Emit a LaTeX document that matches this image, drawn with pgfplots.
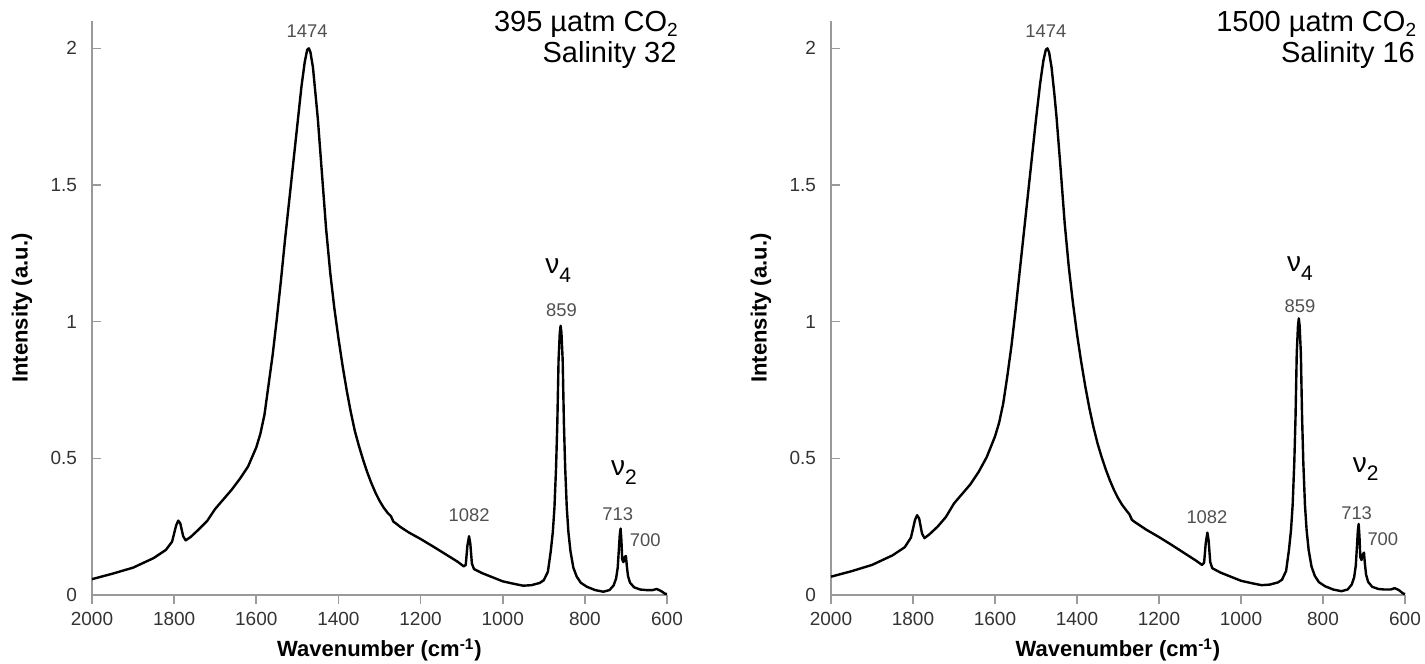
\documentclass[border=0pt]{standalone}
\usepackage{fontspec}
\setmainfont{Liberation Sans}
\usepackage{pgfplots}
\pgfplotsset{compat=1.18}

\definecolor{ticktext}{HTML}{333333}
\definecolor{peaktext}{HTML}{505050}
\definecolor{axisgray}{HTML}{9A9A9A}

% 395 uatm CO2, salinity 32
\pgfplotstableread{
w I
2000 0.058
1950 0.078
1900 0.100
1850 0.135
1820 0.165
1805 0.195
1795 0.255
1790 0.272
1785 0.262
1778 0.215
1772 0.200
1760 0.212
1740 0.240
1720 0.270
1700 0.315
1680 0.350
1660 0.385
1640 0.425
1620 0.470
1600 0.540
1590 0.590
1580 0.660
1570 0.770
1560 0.880
1550 1.010
1540 1.150
1530 1.300
1520 1.440
1510 1.580
1500 1.720
1490 1.860
1482 1.950
1476 1.995
1472 2.000
1468 1.985
1462 1.930
1455 1.820
1450 1.740
1440 1.540
1430 1.340
1420 1.180
1410 1.050
1400 0.940
1390 0.840
1380 0.750
1370 0.670
1360 0.600
1350 0.545
1340 0.495
1330 0.450
1320 0.410
1310 0.375
1300 0.345
1290 0.320
1280 0.300
1272 0.288
1266 0.268
1260 0.262
1250 0.250
1230 0.230
1200 0.205
1170 0.178
1140 0.150
1110 0.122
1095 0.105
1090 0.110
1086 0.180
1082 0.215
1079 0.190
1075 0.115
1070 0.095
1050 0.080
1020 0.062
1000 0.050
970 0.040
950 0.034
930 0.036
910 0.044
900 0.054
890 0.085
883 0.160
878 0.230
874 0.320
870 0.470
867 0.630
864 0.860
861 0.960
859 0.985
857 0.960
854 0.860
851 0.630
848 0.470
844 0.320
840 0.230
835 0.160
828 0.100
820 0.068
810 0.045
795 0.030
775 0.018
755 0.012
740 0.018
730 0.035
724 0.060
720 0.100
717 0.170
715 0.220
713 0.243
711 0.200
709 0.130
706 0.120
703 0.138
700 0.143
698 0.110
695 0.070
690 0.045
680 0.028
665 0.020
650 0.018
635 0.018
625 0.022
615 0.015
605 0.005
600 0.003
}\lowco

% 1500 uatm CO2, salinity 16
\pgfplotstableread{
w I
2000 0.067
1950 0.087
1900 0.110
1850 0.145
1820 0.175
1805 0.210
1795 0.275
1790 0.292
1785 0.280
1778 0.225
1772 0.208
1760 0.222
1740 0.250
1720 0.285
1700 0.335
1680 0.370
1660 0.405
1640 0.450
1620 0.505
1600 0.580
1590 0.630
1580 0.700
1570 0.800
1560 0.910
1550 1.040
1540 1.180
1530 1.320
1520 1.460
1510 1.600
1500 1.740
1490 1.870
1482 1.955
1476 1.995
1472 2.000
1468 1.985
1462 1.930
1455 1.830
1450 1.750
1440 1.560
1430 1.360
1420 1.200
1410 1.070
1400 0.955
1390 0.855
1380 0.765
1370 0.685
1360 0.615
1350 0.555
1340 0.505
1330 0.460
1320 0.420
1310 0.385
1300 0.355
1290 0.330
1280 0.310
1272 0.295
1266 0.275
1260 0.268
1250 0.258
1230 0.238
1200 0.212
1170 0.184
1140 0.155
1110 0.126
1095 0.110
1090 0.118
1086 0.190
1082 0.228
1079 0.200
1075 0.120
1070 0.098
1050 0.082
1020 0.064
1000 0.052
970 0.042
950 0.036
930 0.038
910 0.046
900 0.056
890 0.088
883 0.165
878 0.238
874 0.330
870 0.485
867 0.650
864 0.885
861 0.985
859 1.012
857 0.985
854 0.885
851 0.650
848 0.485
844 0.330
840 0.238
835 0.165
828 0.104
820 0.070
810 0.047
795 0.032
775 0.020
755 0.014
740 0.020
730 0.038
724 0.065
720 0.108
717 0.182
715 0.235
713 0.260
711 0.212
709 0.138
706 0.128
703 0.148
700 0.155
698 0.118
695 0.075
690 0.048
680 0.030
665 0.022
650 0.020
635 0.020
625 0.025
615 0.018
605 0.006
600 0.003
}\highco

\pgfplotsset{
  spec/.style={
    scale only axis, height=287pt,
    xmin=600, xmax=2000, ymin=0, ymax=2.1,
    x dir=reverse,
    axis x line*=bottom, axis y line*=left,
    axis line style={axisgray, line width=0.8pt, -},
    xtick={600,800,...,2000}, ytick={0,0.5,1,1.5,2},
    tick align=inside, major tick length=4.5pt,
    tick style={axisgray, line width=0.8pt},
    x tick style={yshift=-4.5pt},
    tick label style={font=\fontsize{9.5}{11}\selectfont, text=ticktext},
    /pgf/number format/assume math mode=true,
    /pgf/number format/set thousands separator={},
    yticklabel style={xshift=-4pt},
    xticklabel style={yshift=-5pt},
    label style={font=\bfseries\fontsize{11}{13}\selectfont},
    xlabel={Wavenumber (cm\textsuperscript{-1})},
    ylabel={Intensity (a.u.)},
    xlabel style={at={([yshift=-27.5pt]axis description cs:0.5,0)}, anchor=center},
    ylabel style={at={([xshift=-35pt]axis description cs:0,0.5)}, anchor=center},
    clip=false,
  },
}
\tikzset{
  peak/.style={font=\fontsize{9.2}{10}\selectfont, text=peaktext, anchor=base, inner sep=0pt},
  mode/.style={font=\fontsize{14}{16}\selectfont, anchor=base, inner sep=0pt},
  note/.style={font=\fontsize{14.5}{16}\selectfont, anchor=base east, inner sep=0pt},
}
\newcommand{\lowsub}[1]{\raisebox{-4.5pt}{\fontsize{10.5}{11}\selectfont #1}}
\newcommand{\cosub}[1]{\raisebox{-2.5pt}{\fontsize{9.5}{10}\selectfont #1}}

\begin{document}
\begin{tikzpicture}
\begin{axis}[spec, width=287.5pt, at={(46pt,34.5pt)}, anchor=south west]
  \addplot[black, line width=1.2pt, line join=round] table[x=w, y=I] {\lowco};
  \node[peak] at (axis cs:1476,2.04) {1474};
  \node[peak] at (axis cs:1082,0.27) {1082};
  \node[peak] at (axis cs:857,1.02) {859};
  \node[peak] at (axis cs:720,0.274) {713};
  \node[peak] at (axis cs:653,0.177) {700};
  \node[mode] at (axis cs:865,1.177) {ν\lowsub{4}};
  \node[mode] at (axis cs:705,0.439) {ν\lowsub{2}};
  \node[note] at (axis cs:573,2.06) {395 µatm CO\cosub{2}};
  \node[note] at (axis cs:576,1.948) {Salinity 32};
\end{axis}
\begin{axis}[spec, width=287pt, at={(415.5pt,34.5pt)}, anchor=south west]
  \addplot[black, line width=1.2pt, line join=round] table[x=w, y=I] {\highco};
  \node[peak] at (axis cs:1476,2.04) {1474};
  \node[peak] at (axis cs:1083,0.26) {1082};
  \node[peak] at (axis cs:856,1.035) {859};
  \node[peak] at (axis cs:718,0.277) {713};
  \node[peak] at (axis cs:654,0.18) {700};
  \node[mode] at (axis cs:856,1.185) {ν\lowsub{4}};
  \node[mode] at (axis cs:696,0.45) {ν\lowsub{2}};
  \node[note] at (axis cs:572,2.06) {1500 µatm CO\cosub{2}};
  \node[note] at (axis cs:575,1.948) {Salinity 16};
\end{axis}
\pgfresetboundingbox
\path (0,0) rectangle (712.5pt,332pt);
\end{tikzpicture}
\end{document}
